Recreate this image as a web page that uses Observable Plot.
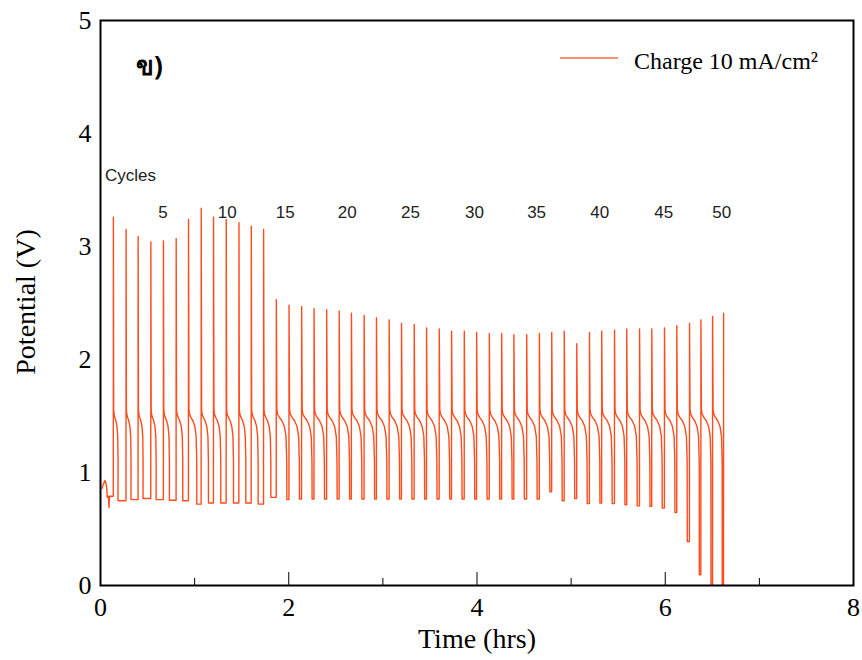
<!DOCTYPE html>
<html>
<head>
<meta charset="utf-8">
<script src="https://cdn.jsdelivr.net/npm/d3@7"></script>
<script src="https://cdn.jsdelivr.net/npm/@observablehq/plot@0.6"></script>
<style>
  body { margin: 0; background: #fff; }
  #chart { width: 862px; height: 660px; }
</style>
</head>
<body>
<div id="chart"></div>
<script>
// Time (hrs) of each charge spike, cycles 1..50
const spikeHrs = [
  0.136, 0.271, 0.399, 0.534, 0.668, 0.803, 0.934, 1.069, 1.200, 1.335,
  1.470, 1.601, 1.732, 1.867, 2.002, 2.136, 2.268, 2.402, 2.535, 2.665,
  2.800, 2.931, 3.066, 3.197, 3.332, 3.463, 3.598, 3.729, 3.864, 3.995,
  4.130, 4.261, 4.391, 4.527, 4.662, 4.793, 4.926, 5.059, 5.194, 5.324,
  5.460, 5.590, 5.726, 5.856, 5.991, 6.122, 6.257, 6.378, 6.502, 6.619
];
// Peak potential (V) of each spike
const peakV = [
  3.26, 3.15, 3.09, 3.04, 3.05, 3.07, 3.24, 3.34, 3.26, 3.24,
  3.21, 3.18, 3.15, 2.53, 2.48, 2.47, 2.45, 2.44, 2.43, 2.41,
  2.39, 2.37, 2.35, 2.32, 2.31, 2.28, 2.27, 2.25, 2.25, 2.24,
  2.23, 2.23, 2.22, 2.22, 2.23, 2.24, 2.25, 2.14, 2.24, 2.25,
  2.26, 2.27, 2.27, 2.27, 2.28, 2.30, 2.32, 2.35, 2.38, 2.41
];
// Potential (V) reached at the end of each discharge (cycles 1..49)
const restV = [
  0.75, 0.76, 0.77, 0.76, 0.755, 0.75, 0.72, 0.73, 0.73, 0.73,
  0.73, 0.72, 0.78, 0.76, 0.765, 0.765, 0.765, 0.765, 0.765, 0.765,
  0.765, 0.765, 0.765, 0.765, 0.765, 0.765, 0.765, 0.765, 0.765, 0.765,
  0.765, 0.765, 0.765, 0.765, 0.83, 0.75, 0.77, 0.725, 0.73, 0.725,
  0.715, 0.705, 0.70, 0.685, 0.645, 0.39, 0.095, -0.3, -0.3
];
// Length (hrs) of each discharge plateau (cycles 1..49)
const dischargeHrs = [
  0.050, 0.053, 0.053, 0.057, 0.064, 0.071, 0.089, 0.078, 0.078, 0.078,
  0.074, 0.074, 0.078, 0.113, 0.112, 0.112, 0.112, 0.112, 0.112, 0.112,
  0.112, 0.112, 0.112, 0.112, 0.112, 0.112, 0.112, 0.112, 0.112, 0.112,
  0.112, 0.112, 0.112, 0.112, 0.112, 0.112, 0.112, 0.112, 0.112, 0.112,
  0.112, 0.112, 0.112, 0.112, 0.112, 0.112, 0.105, 0.108, 0.104
];
// Discharge plateau profile: fraction of plateau length, potential (V)
const plateauFrac = [0.04, 0.10, 0.26, 0.50, 0.74, 0.90, 0.97];
const plateauV    = [1.56, 1.52, 1.49, 1.46, 1.41, 1.32, 1.10];
// Opening rest segment before the first cycle
const startHrs = [0.016, 0.032, 0.048, 0.059, 0.066, 0.072, 0.085, 0.090, 0.096, 0.128];
const startV   = [0.86, 0.90, 0.93, 0.90, 0.86, 0.78, 0.79, 0.69, 0.79, 0.79];

// Cycle number annotations
const cycleLabels = ["5", "10", "15", "20", "25", "30", "35", "40", "45", "50"];
const cycleLabelHrs = [0.665, 1.346, 1.963, 2.622, 3.293, 3.973, 4.633, 5.303, 5.984, 6.601];
const cycleLabelV = 3.30;
const cyclesTitle = "Cycles";

const xMajor = [0, 2, 4, 6, 8];
const xMinor = [1, 3, 5, 7];
const yTicks = [0, 1, 2, 3, 4, 5];

const lineColor = "#ff4c1c";
const serif = "'Liberation Serif', 'Times New Roman', serif";
const sans = "'Liberation Sans', Arial, sans-serif";

// Assemble the charge/discharge trace
const trace = [];
startHrs.forEach((t, i) => trace.push({t, v: startV[i]}));
spikeHrs.forEach((ts, i) => {
  const prev = i === 0 ? startV[startV.length - 1] : restV[i - 1];
  trace.push({t: ts, v: prev});
  trace.push({t: ts + 0.001, v: peakV[i]});
  if (i < restV.length) {
    const d = dischargeHrs[i];
    plateauFrac.forEach((f, k) => trace.push({t: ts + 0.002 + f * d, v: plateauV[k]}));
    trace.push({t: ts + d, v: restV[i]});
  }
});

const labelRows = cycleLabels.map((s, i) => ({s, t: cycleLabelHrs[i]}));

const svg = Plot.plot({
  width: 862,
  height: 660,
  marginLeft: 100,
  marginRight: 9,
  marginTop: 20,
  marginBottom: 75,
  style: {fontFamily: serif, background: "#fff", color: "#000"},
  x: {domain: [0, 8]},
  y: {domain: [0, 5]},
  marks: [
    Plot.line(trace, {x: "t", y: "v", stroke: lineColor, strokeWidth: 1.4, clip: true}),
    Plot.text(labelRows, {x: "t", y: cycleLabelV, text: "s", fontFamily: sans, fontSize: 17, fill: "#222"}),
    Plot.text([cyclesTitle], {x: 0.048, y: 3.63, text: d => d, textAnchor: "start", fontFamily: sans, fontSize: 17, fill: "#222"}),
    Plot.axisX({ticks: [2, 4, 6], tickSize: -13, tickWidth: 2, text: null, label: null}),
    Plot.axisX({ticks: xMinor, tickSize: -7, tickWidth: 2, text: null, label: null}),
    Plot.axisX({ticks: xMajor, tickSize: 0, tickPadding: 12, fontSize: 26, fontFamily: serif, tickFormat: d => String(d), label: null}),
    Plot.axisY({ticks: yTicks, tickSize: 0, tickPadding: 9, fontSize: 26, fontFamily: serif, tickFormat: d => String(d), label: null}),
    Plot.frame({stroke: "#000", strokeWidth: 2})
  ]
});

const root = d3.select(svg);
// Axis titles
root.append("text")
  .attr("x", 477).attr("y", 648)
  .attr("text-anchor", "middle")
  .attr("font-family", serif).attr("font-size", 28)
  .text("Time (hrs)");
root.append("text")
  .attr("transform", "translate(35,302) rotate(-90)")
  .attr("text-anchor", "middle")
  .attr("font-family", serif).attr("font-size", 28)
  .text("Potential (V)");
// Legend
root.append("line")
  .attr("x1", 560).attr("x2", 618).attr("y1", 58).attr("y2", 58)
  .attr("stroke", "#ff6a45").attr("stroke-width", 1.3);
root.append("text")
  .attr("x", 634).attr("y", 69)
  .attr("text-anchor", "start")
  .attr("font-family", serif).attr("font-size", 24)
  .text("Charge 10 mA/cm²");
// Panel tag
root.append("text")
  .attr("x", 136).attr("y", 75)
  .attr("text-anchor", "start")
  .attr("font-family", "'Noto Sans', 'DejaVu Sans', sans-serif")
  .attr("font-weight", "bold").attr("font-size", 26)
  .text("ข)");

document.getElementById("chart").appendChild(svg);
</script>
</body>
</html>
